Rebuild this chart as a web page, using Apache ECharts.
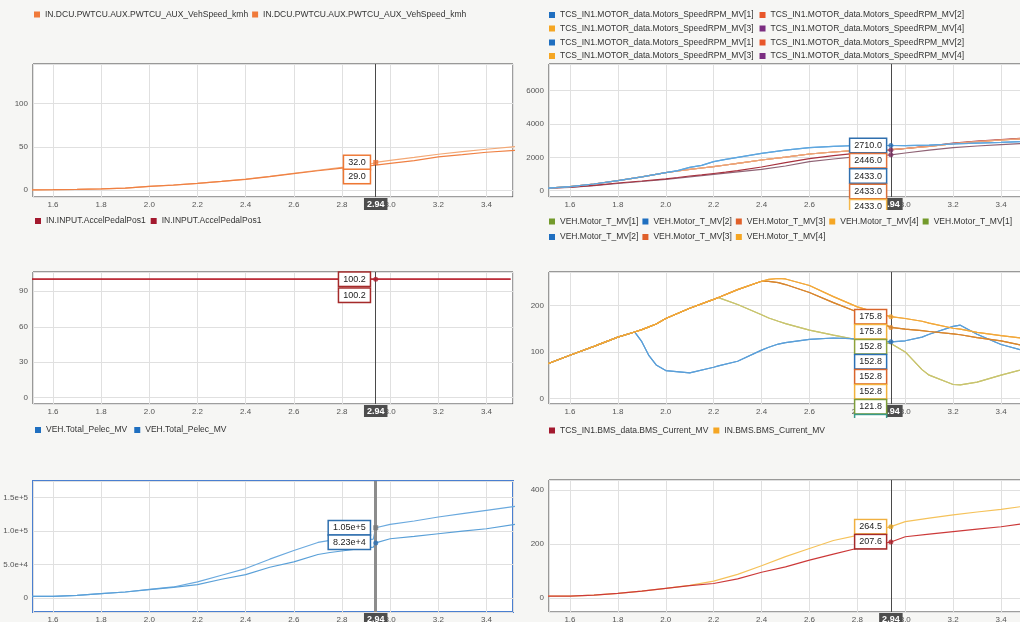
<!DOCTYPE html>
<html><head><meta charset="utf-8">
<script src="https://cdn.jsdelivr.net/npm/echarts@6/dist/echarts.min.js"></script>
<style>
html,body{margin:0;padding:0;background:#f6f6f4;width:1020px;height:622px;overflow:hidden;position:relative}
.p{position:absolute;overflow:hidden}
</style></head><body>
<div id="tl" class="p" style="left:0;top:0;width:518px;height:210px"></div>
<div id="tr" class="p" style="left:518px;top:0;width:502px;height:210px"></div>
<div id="ml" class="p" style="left:0;top:210px;width:518px;height:208px"></div>
<div id="mr" class="p" style="left:518px;top:210px;width:502px;height:208px"></div>
<div id="bl" class="p" style="left:0;top:418px;width:518px;height:204px"></div>
<div id="br" class="p" style="left:518px;top:418px;width:502px;height:204px"></div>
<script>
// ---------- DATA ----------
const CURSOR_X = 2.94;

// Vehicle speed (km/h)
const speedName = 'IN.DCU.PWTCU.AUX.PWTCU_AUX_VehSpeed_kmh';
const speedX = [1.5, 1.6, 1.7, 1.8, 1.9, 2.0, 2.1, 2.2, 2.3, 2.4, 2.5, 2.6, 2.7, 2.8, 2.9, 2.94, 3.0, 3.1, 3.2, 3.3, 3.4, 3.52];
const speedA = [0.3, 0.5, 0.8, 1.3, 2.2, 4.3, 5.9, 7.8, 10.1, 12.7, 15.9, 19.5, 23.0, 26.3, 28.8, 32.0, 34.5, 37.8, 41.5, 44.5, 47.3, 50.4];
const speedB = [0.3, 0.5, 0.8, 1.3, 2.2, 4.2, 5.8, 7.7, 10.0, 12.5, 15.6, 19.1, 22.4, 25.4, 27.6, 29.0, 31.0, 34.2, 38.4, 41.0, 43.8, 46.0];
const speedCursor = [32.0, 29.0];

// Motor speed (rpm)
const rpmNames = ['TCS_IN1.MOTOR_data.Motors_SpeedRPM_MV[1]', 'TCS_IN1.MOTOR_data.Motors_SpeedRPM_MV[2]', 'TCS_IN1.MOTOR_data.Motors_SpeedRPM_MV[3]', 'TCS_IN1.MOTOR_data.Motors_SpeedRPM_MV[4]'];
const rpmX = [1.5, 1.6, 1.7, 1.8, 1.9, 2.0, 2.05, 2.1, 2.15, 2.2, 2.25, 2.3, 2.4, 2.5, 2.6, 2.7, 2.8, 2.9, 2.94, 3.0, 3.1, 3.2, 3.3, 3.4, 3.5];
const rpm1 = [150, 240, 400, 600, 830, 1080, 1200, 1400, 1520, 1740, 1880, 2000, 2240, 2430, 2580, 2660, 2710, 2710, 2710, 2700, 2730, 2800, 2850, 2900, 2960];
const rpm2 = [150, 240, 400, 600, 830, 1080, 1180, 1280, 1360, 1440, 1540, 1640, 1840, 2010, 2200, 2320, 2420, 2450, 2460, 2530, 2660, 2820, 2940, 3040, 3120];
const rpm3 = [140, 210, 320, 460, 580, 710, 790, 880, 950, 1030, 1110, 1200, 1420, 1680, 1920, 2100, 2250, 2380, 2446, 2530, 2680, 2850, 2970, 3070, 3160];
const rpm4 = [140, 200, 300, 430, 550, 680, 750, 830, 900, 980, 1050, 1130, 1280, 1480, 1740, 1900, 2040, 2120, 2150, 2260, 2430, 2580, 2680, 2760, 2840];
const rpmCursor = [2710.0, 2446.0, 2433.0, 2433.0, 2433.0];

// Accelerator pedal (%)
const pedalName = 'IN.INPUT.AccelPedalPos1';
const pedalX = [1.5, 2.0, 2.5, 2.94, 3.0, 3.5];
const pedalA = [100.2, 100.2, 100.2, 100.2, 100.2, 100.2];
const pedalCursor = [100.2, 100.2];

// Motor torque
const tqNames = ['VEH.Motor_T_MV[1]', 'VEH.Motor_T_MV[2]', 'VEH.Motor_T_MV[3]', 'VEH.Motor_T_MV[4]'];
const tqX      = [1.5, 1.6, 1.7, 1.8, 1.87, 1.9, 1.93, 1.96, 2.0, 2.1, 2.2, 2.22, 2.3, 2.4, 2.43, 2.47, 2.5, 2.6, 2.7, 2.8, 2.94, 3.0, 3.07, 3.1, 3.2, 3.23, 3.3, 3.4, 3.5];
const tqOlive  = [73, 93, 112, 132, 143, 148, 154, 160, 172, 194, 213, 217, 202, 180, 173, 166, 161, 147, 136, 126, 118, 100, 62, 50, 30, 29, 35, 50, 64];
const tqBlue   = [73, 93, 112, 132, 143, 122, 92, 72, 60, 55, 67, 70, 80, 104, 110, 117, 120, 127, 130, 128, 121.8, 124, 132, 138, 155, 157.6, 138, 116, 102];
const tqBrown  = [73, 93, 112, 132, 143, 148, 154, 160, 172, 194, 213, 217, 234, 252, 252, 249, 245, 228, 206, 186, 152.8, 149, 146, 144, 139, 137, 131, 124, 113];
const tqOrange = [73, 93, 112, 132, 143, 148, 154, 160, 172, 194, 213, 217, 234, 252, 256, 258, 257, 243, 219, 197, 175.8, 172, 166, 162, 151, 149, 142, 135, 129];
const tqCursor = [175.8, 175.8, 152.8, 152.8, 152.8, 152.8, 121.8, 121.8];

// Electric power
const peName = 'VEH.Total_Pelec_MV';
const peX = [1.5, 1.6, 1.7, 1.8, 1.9, 2.0, 2.1, 2.2, 2.3, 2.4, 2.5, 2.6, 2.7, 2.75, 2.88, 2.93, 2.94, 3.0, 3.1, 3.2, 3.3, 3.4, 3.52];
const peA = [2500, 2500, 4000, 6500, 9000, 13000, 16500, 24000, 34000, 44000, 58000, 71000, 83000, 86000, 86500, 88000, 105000, 110000, 115000, 121000, 126000, 131000, 137000];
const peB = [2500, 2500, 4000, 6500, 9000, 12500, 16000, 20000, 28000, 35000, 46000, 54000, 65000, 68000, 74000, 76000, 82300, 88500, 92000, 96000, 100000, 103500, 110000];
const peCursor = [105000, 82300];

// Battery current
const curNames = ['TCS_IN1.BMS_data.BMS_Current_MV', 'IN.BMS.BMS_Current_MV'];
const curX = [1.5, 1.6, 1.7, 1.8, 1.9, 2.0, 2.1, 2.2, 2.3, 2.4, 2.5, 2.6, 2.7, 2.8, 2.9, 2.94, 3.0, 3.1, 3.2, 3.3, 3.4, 3.5];
const curRed    = [6, 6, 10, 16, 25, 35, 45, 53, 70, 95, 115, 140, 162, 184, 200, 207.6, 227, 237, 246, 255, 264, 276];
const curYellow = [6, 6, 10, 16, 25, 35, 46, 62, 87, 119, 153, 183, 213, 232, 255, 264.5, 283, 296, 308, 319, 329, 341];
const curCursor = [264.5, 207.6];

// ---------- HELPERS ----------
const FONT = '"Liberation Sans", Arial, sans-serif';
const pairs = (xs, ys) => xs.map((x, i) => [x, ys[i]]);

function xAxis(min, max) {
  return {type: 'value', min, max, splitNumber: 10,
    axisLine: {show: false}, axisTick: {show: false},
    axisLabel: {fontSize: 8, color: '#555', margin: 4, fontFamily: FONT,
      formatter: v => (Math.abs(v * 5 - Math.round(v * 5)) < 1e-6) ? v.toFixed(1) : ''},
    splitLine: {show: true, lineStyle: {color: '#e0e0e0', width: 1}}};
}
function yAxis(min, max, split, fmt) {
  const eps = (max - min) * 1e-6;
  return {type: 'value', min, max, splitNumber: split,
    axisLine: {show: false}, axisTick: {show: false},
    axisLabel: {fontSize: 8, color: '#555', margin: 5, fontFamily: FONT,
      formatter: v => (Math.abs(v - min) < eps || Math.abs(v - max) < eps) ? '' : (fmt ? fmt(v) : String(v))},
    splitLine: {show: true, lineStyle: {color: '#e0e0e0', width: 1}}};
}
function legendRow(items, left, top, gap) {
  return {left, top, width: 900, padding: 0, icon: 'rect', itemWidth: 6, itemHeight: 6, itemGap: gap,
    selectedMode: false, textStyle: {fontSize: 8.5, color: '#333', fontFamily: FONT},
    itemStyle: {borderWidth: 0},
    formatter: n => n.replace(/#\d+$/, ''),
    data: items.map(it => ({name: it[0], itemStyle: {color: it[1]}}))};
}
function grid(left, right, top, bottom, borderColor, borderWidth) {
  return {left, right, top, bottom, show: true, backgroundColor: '#fff', outerBoundsMode: 'none', containLabel: false,
    borderColor: borderColor || '#3c3c3c', borderWidth: borderWidth || 1};
}
function line(name, xs, ys, color, legendColor) {
  return {type: 'line', name, data: pairs(xs, ys), showSymbol: false, symbol: 'none', animation: false,
    lineStyle: {color, width: 1.2}, itemStyle: {color: legendColor || color}, emphasis: {disabled: true}, z: 2};
}
function cursor(dots, labels, colors, fmt, spacing, dist, lineStyle) {
  return {type: 'scatter', name: '__cursor', silent: true, animation: false, z: 7,
    data: dots.map(d => ({value: [CURSOR_X, d[0]], symbol: d[2] || 'circle', symbolSize: 5, itemStyle: {color: d[1]}})),
    markLine: {silent: true, symbol: ['none', 'none'], animation: false, z: 3,
      lineStyle: Object.assign({color: '#4a4a4a', width: 1, type: 'solid'}, lineStyle || {}),
      emphasis: {disabled: true},
      label: {show: true, position: 'start', distance: 1, formatter: CURSOR_X.toFixed(2), color: '#fff',
        backgroundColor: '#4d4d4d', padding: [2, 3, 1, 3], fontSize: 9, fontWeight: 'bold', fontFamily: FONT},
      data: [{xAxis: CURSOR_X}]},
    markPoint: {silent: true, animation: false, z: 8, symbol: 'circle', symbolSize: 2,
      itemStyle: {color: 'rgba(0,0,0,0)'},
      data: labels.map((v, k) => ({coord: [CURSOR_X, labels[0]], value: v,
        label: {show: true, position: 'left', distance: dist, offset: [0, k * spacing], formatter: fmt(v),
          color: '#222', fontSize: 9, fontFamily: FONT, backgroundColor: '#fff',
          borderColor: colors[k], borderWidth: 1.5, padding: [2, 4, 1, 4], lineHeight: 10}}))}
  };
}
const f1 = v => v.toFixed(1);
const base = {backgroundColor: 'transparent', animation: false, tooltip: {show: false}};
function mk(id, opt) {
  const c = echarts.init(document.getElementById(id), null, {renderer: 'canvas'});
  c.setOption(Object.assign({}, base, opt));
}

// ---------- PANELS ----------
const LX = [1.517, 3.51], RX = [1.5125, 3.5];

mk('tl', {
  legend: [legendRow([[speedName, '#f07a3a'], [speedName + '#2', '#f07a3a']], 34, 10, 4)],
  grid: grid(33, 5, 64, 13),
  xAxis: xAxis(LX[0], LX[1]), yAxis: yAxis(-8, 146, 3),
  series: [
    line(speedName, speedX, speedA, '#f3a875', '#f07a3a'),
    line(speedName + '#2', speedX, speedB, '#ef8043', '#f07a3a'),
    cursor([[speedA[15], '#ee7030', 'rect']], speedCursor, ['#ee7733', '#ee7733'], f1, 14, 5)
  ]
});

const rpmLeg = ['#1f6fc0', '#e8562a', '#f5a623', '#7b2d80'];
mk('tr', {
  legend: [
    legendRow([[rpmNames[0], rpmLeg[0]], [rpmNames[1], rpmLeg[1]]], 31, 10.5, 6),
    legendRow([[rpmNames[2], rpmLeg[2]], [rpmNames[3], rpmLeg[3]]], 31, 24, 6),
    legendRow([[rpmNames[0] + '#2', rpmLeg[0]], [rpmNames[1] + '#2', rpmLeg[1]]], 31, 38, 6),
    legendRow([[rpmNames[2] + '#2', rpmLeg[2]], [rpmNames[3] + '#2', rpmLeg[3]]], 31, 51.5, 6)
  ],
  grid: grid(31, -5, 64, 13),
  xAxis: xAxis(RX[0], RX[1]), yAxis: yAxis(-380, 7600, 4),
  series: [
    line(rpmNames[2], rpmX, rpm2, '#f0b060', rpmLeg[2]),
    line(rpmNames[2] + '#2', rpmX, rpm2, '#f0b060', rpmLeg[2]),
    line(rpmNames[3] + '#2', rpmX, rpm4, '#8f6375', rpmLeg[3]),
    line(rpmNames[3], rpmX, rpm3, '#a8323f', rpmLeg[3]),
    line(rpmNames[1] + '#2', rpmX, rpm2, '#eba27c', rpmLeg[1]),
    line(rpmNames[1], rpmX, rpm2, '#eba27c', rpmLeg[1]),
    line(rpmNames[0] + '#2', rpmX, rpm1, '#5ea6df', rpmLeg[0]),
    line(rpmNames[0], rpmX, rpm1, '#5ea6df', rpmLeg[0]),
    cursor([[rpm1[18], '#2a6fb5'], [rpm3[18], '#7b2d60'], [rpm4[18], '#7b2d60']], rpmCursor,
      ['#2f6fae', '#e0703a', '#2f6fae', '#d9703a', '#f5b84a'], f1, 15.3, 4)
  ]
});

mk('ml', {
  legend: [legendRow([[pedalName, '#a3192e'], [pedalName + '#2', '#a3192e']], 35, 6.5, 5)],
  grid: grid(33, 5, 62, 14),
  xAxis: xAxis(LX[0], LX[1]), yAxis: yAxis(-5.3, 106.3, 4),
  series: [
    line(pedalName, pedalX, pedalA, '#b8222f', '#a3192e'),
    line(pedalName + '#2', pedalX, pedalA, '#b8222f', '#a3192e'),
    cursor([[pedalA[3], '#b02030']], pedalCursor, ['#a52a2a', '#a52a2a'], f1, 16, 5)
  ]
});

const tqLeg = ['#739a2b', '#1f6fc0', '#e0602a', '#f5a623'];
mk('mr', {
  legend: [
    legendRow([[tqNames[0], tqLeg[0]], [tqNames[1], tqLeg[1]], [tqNames[2], tqLeg[2]], [tqNames[3], tqLeg[3]], [tqNames[0] + '#2', tqLeg[0]]], 31, 7, 4),
    legendRow([[tqNames[1] + '#2', tqLeg[1]], [tqNames[2] + '#2', tqLeg[2]], [tqNames[3] + '#2', tqLeg[3]]], 31, 22.5, 4)
  ],
  grid: grid(31, -5, 62, 14),
  xAxis: xAxis(RX[0], RX[1]), yAxis: yAxis(-12, 272, 3),
  series: [
    line(tqNames[0] + '#2', tqX, tqOlive, '#c8c46e', tqLeg[0]),
    line(tqNames[0], tqX, tqOlive, '#c8c46e', tqLeg[0]),
    line(tqNames[1] + '#2', tqX, tqBlue, '#5b9fd8', tqLeg[1]),
    line(tqNames[1], tqX, tqBlue, '#5b9fd8', tqLeg[1]),
    line(tqNames[2] + '#2', tqX, tqBrown, '#d8862e', tqLeg[2]),
    line(tqNames[2], tqX, tqBrown, '#d8862e', tqLeg[2]),
    line(tqNames[3] + '#2', tqX, tqOrange, '#f2a83a', tqLeg[3]),
    line(tqNames[3], tqX, tqOrange, '#f2a83a', tqLeg[3]),
    cursor([[tqOrange[20], '#f0a030'], [tqBrown[20], '#e08a30'], [tqBlue[20], '#2a70b5']], tqCursor,
      ['#d9652b', '#f2b13b', '#8fa23a', '#2a70b5', '#d9652b', '#f2b13b', '#7d9d3a', '#3a9a8a'], f1, 15, 4)
  ]
});

mk('bl', {
  legend: [legendRow([[peName, '#1f6fc0'], [peName + '#2', '#1f6fc0']], 35, 7.5, 7)],
  grid: grid(33, 5, 63, 10, '#4a7fd0', 2),
  xAxis: xAxis(LX[0], LX[1]), yAxis: yAxis(-20900, 174800, 4, v => v === 0 ? '0' : v.toExponential(1)),
  series: [
    line(peName, peX, peA, '#6aa9de', '#1f6fc0'),
    line(peName + '#2', peX, peB, '#5aa0d8', '#1f6fc0'),
    cursor([[peA[16], '#777', 'rect'], [peB[16], '#2a70b5']], peCursor, ['#2f6fae', '#2f6fae'],
      v => v.toExponential(2), 14.5, 5, {color: '#8c8c8c', width: 3})
  ]
});

mk('br', {
  legend: [legendRow([[curNames[0], '#a3192e'], [curNames[1], '#f5a623']], 31, 8, 5)],
  grid: grid(31, -5, 62, 10),
  xAxis: xAxis(RX[0], RX[1]), yAxis: yAxis(-53, 438, 2),
  series: [
    line(curNames[1], curX, curYellow, '#f5c25a', '#f5a623'),
    line(curNames[0], curX, curRed, '#cc3a3a', '#a3192e'),
    cursor([[curYellow[15], '#e0a020'], [curRed[15], '#b0202a']], curCursor, ['#f0b040', '#a52a2a'], f1, 15, 4)
  ]
});
</script>
</body></html>
